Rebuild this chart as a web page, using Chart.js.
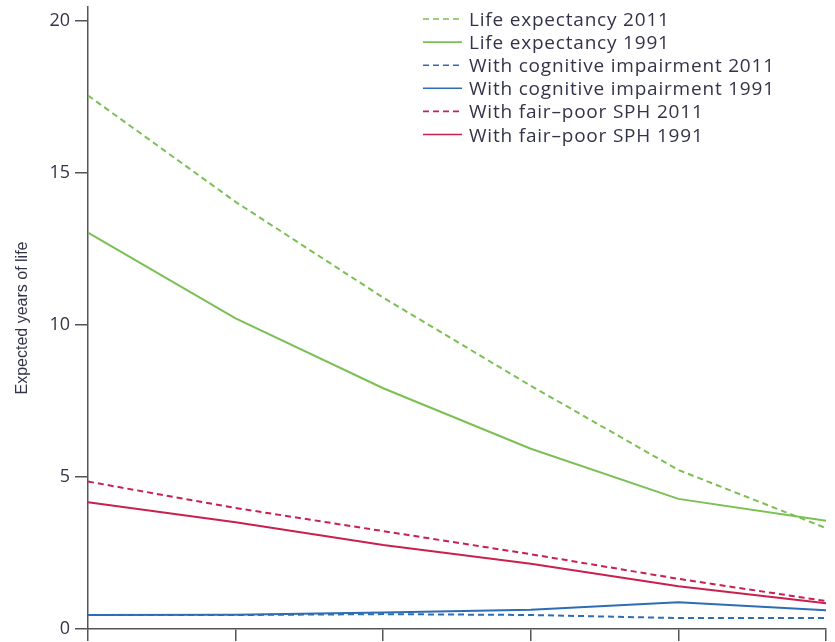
<!DOCTYPE html>
<html>
<head>
<meta charset="utf-8">
<script src="https://cdn.jsdelivr.net/npm/chart.js@4/dist/chart.umd.min.js"></script>
<style>
  html, body { margin: 0; padding: 0; background: #fff; }
  #wrap { width: 835px; height: 642px; }
</style>
</head>
<body>
<div id="wrap"><canvas id="c" width="835" height="642"></canvas></div>
<script>
// Age groups along the x axis (tick marks only)
const ageGroups = ['65', '70', '75', '80', '85', '90'];
const yTicks = [0, 5, 10, 15, 20];

// Expected years of life by age group
const lifeExp2011   = [17.55, 14.05, 10.9, 8.0, 5.23, 3.32];
const lifeExp1991   = [13.04, 10.22, 7.92, 5.93, 4.28, 3.56];
const cogImp2011    = [0.46, 0.46, 0.49, 0.46, 0.36, 0.36];
const cogImp1991    = [0.46, 0.47, 0.54, 0.63, 0.88, 0.62];
const fairPoor2011  = [4.85, 3.98, 3.22, 2.46, 1.65, 0.92];
const fairPoor1991  = [4.17, 3.51, 2.76, 2.15, 1.41, 0.85];

const GREEN = '#7bbf55';
const BLUE = '#2c6db3';
const RED = '#c8204f';
const DASH = [6, 4];

function series(label, data, color, dashed) {
  return {
    label, data,
    borderColor: color,
    backgroundColor: color,
    borderWidth: 2,
    borderDash: dashed ? DASH : [],
    pointRadius: 0,
    tension: 0,
    fill: false
  };
}

// Legend drawn as a single column inside the plot, top right
const columnLegend = {
  id: 'columnLegend',
  afterDraw(chart, args, opts) {
    const ctx = chart.ctx;
    ctx.save();
    ctx.font = opts.font;
    if ('letterSpacing' in ctx) ctx.letterSpacing = opts.letterSpacing;
    ctx.fillStyle = opts.color;
    ctx.textBaseline = 'alphabetic';
    ctx.textAlign = 'left';
    chart.data.datasets.forEach((ds, i) => {
      const base = opts.y + i * opts.step;
      const ly = base - opts.lineRaise;
      ctx.beginPath();
      ctx.strokeStyle = ds.borderColor;
      ctx.lineWidth = 1.6;
      ctx.setLineDash(ds.borderDash || []);
      ctx.moveTo(opts.x, ly);
      ctx.lineTo(opts.x + opts.lineLen, ly);
      ctx.stroke();
      ctx.setLineDash([]);
      ctx.fillText(ds.label, opts.x + opts.lineLen + opts.gap, base);
    });
    ctx.restore();
  }
};

new Chart(document.getElementById('c'), {
  type: 'line',
  data: {
    labels: ageGroups,
    datasets: [
      series('Life expectancy 2011', lifeExp2011, GREEN, true),
      series('Life expectancy 1991', lifeExp1991, GREEN, false),
      series('With cognitive impairment 2011', cogImp2011, BLUE, true),
      series('With cognitive impairment 1991', cogImp1991, BLUE, false),
      series('With fair\u2013poor SPH 2011', fairPoor2011, RED, true),
      series('With fair\u2013poor SPH 1991', fairPoor1991, RED, false)
    ]
  },
  options: {
    responsive: false,
    animation: false,
    layout: { padding: { top: 7, right: 9, left: 0, bottom: 0 } },
    plugins: {
      legend: { display: false },
      tooltip: { enabled: false },
      columnLegend: {
        x: 423, y: 26, step: 23.1, lineLen: 39, gap: 7, lineRaise: 7,
        font: '19px "Open Sans"', letterSpacing: '0.8px', color: '#33334a'
      }
    },
    scales: {
      x: {
        type: 'category',
        offset: false,
        grid: { display: true, drawOnChartArea: false, drawTicks: true, tickLength: 12, color: '#555', lineWidth: 1.5 },
        border: { display: true, color: '#555', width: 1.5 },
        ticks: { display: false },
        afterFit(scale) {
          scale.height = 13;
          scale.paddingLeft = 0; scale.paddingRight = 0;
        }
      },
      y: {
        min: 0,
        max: 20.46,
        afterBuildTicks(scale) {
          scale.ticks = yTicks.map(v => ({ value: v }));
        },
        grid: { display: true, drawOnChartArea: false, drawTicks: true, tickLength: 13, color: '#555', lineWidth: 1.5 },
        border: { display: true, color: '#555', width: 1.5 },
        ticks: {
          padding: 5,
          color: '#33334a',
          font: { family: 'Open Sans', size: 18 }
        },
        title: {
          display: true,
          text: 'Expected years of life',
          color: '#33334a',
          font: { family: 'Liberation Sans', size: 16 },
          padding: { top: 13, bottom: 0 }
        },
        afterFit(scale) {
          scale.width = 88;
          scale.paddingTop = 0; scale.paddingBottom = 0;
        }
      }
    }
  },
  plugins: [columnLegend]
});
</script>
</body>
</html>
